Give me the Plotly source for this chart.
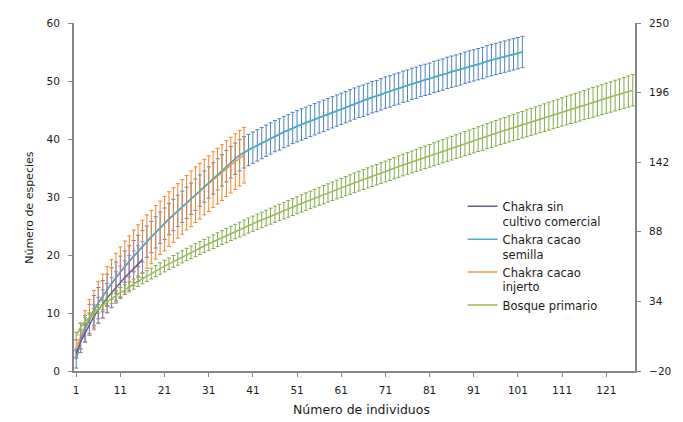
import plotly.graph_objects as go

# ---------------- data ----------------
x_tick_vals = [1, 11, 21, 31, 41, 51, 61, 71, 81, 91, 101, 111, 121]
x_tick_text = [str(v) for v in x_tick_vals]
y_left_ticks = [0, 10, 20, 30, 40, 50, 60]
y_right_ticks = [-20, 34, 88, 142, 196, 250]

series_names = ["Chakra sin<br>cultivo comercial", "Chakra cacao<br>semilla",
                "Chakra cacao<br>injerto", "Bosque primario"]

# Chakra sin cultivo comercial (left axis)
sin_cultivo = [3.0, 5.0, 6.5, 8.0, 9.4, 10.5, 11.6, 12.6, 13.5, 14.4, 15.3, 16.1, 16.9, 17.7, 18.5, 19.2]
sin_cultivo_err = [0.8, 1.2, 1.5, 1.8, 2.0, 2.2, 2.4, 2.5, 2.6, 2.7, 2.8, 2.9, 3.0, 3.0, 3.1, 3.1]

# Chakra cacao semilla (left axis)
semilla = [2.0, 5.2, 7.3, 9.0, 10.4, 11.7, 12.9, 14.0, 15.1, 16.1,
           17.1, 18.0, 18.9, 19.8, 20.7, 21.5, 22.3, 23.1, 23.9, 24.7,
           25.4, 26.2, 26.9, 27.6, 28.3, 29.0, 29.7, 30.4, 31.1, 31.8,
           32.5, 33.2, 33.9, 34.6, 35.3, 36.0, 36.6, 37.2, 37.7, 38.1,
           38.5, 38.9, 39.3, 39.7, 40.1, 40.5, 40.8, 41.2, 41.5, 41.9,
           42.2, 42.5, 42.8, 43.1, 43.4, 43.7, 44.0, 44.3, 44.6, 44.9,
           45.2, 45.5, 45.8, 46.1, 46.4, 46.6, 46.9, 47.2, 47.4, 47.7,
           48.0, 48.2, 48.5, 48.7, 49.0, 49.2, 49.5, 49.7, 50.0, 50.2,
           50.4, 50.7, 50.9, 51.1, 51.4, 51.6, 51.8, 52.0, 52.3, 52.5,
           52.7, 52.9, 53.1, 53.4, 53.6, 53.8, 54.0, 54.2, 54.4, 54.6,
           54.8, 55.0]
semilla_err = [1.5, 2.0, 2.3, 2.5, 2.6] + [2.7] * 97

# Chakra cacao injerto (left axis)
injerto = [3.9, 6.0, 7.7, 9.2, 10.5, 11.8, 12.9, 14.0, 15.1, 16.1,
           17.1, 18.0, 18.9, 19.8, 20.7, 21.5, 22.3, 23.1, 23.9, 24.7,
           25.4, 26.2, 26.9, 27.6, 28.3, 29.0, 29.7, 30.4, 31.0, 31.7,
           32.3, 33.0, 33.6, 34.2, 34.9, 35.5, 36.1, 36.7, 37.2]
injerto_err = [1.5, 2.2, 2.7, 3.1, 3.4, 3.6, 3.8, 4.0, 4.1, 4.2,
               4.3, 4.4, 4.4, 4.5, 4.5, 4.5, 4.6, 4.6, 4.6, 4.6,
               4.7, 4.7, 4.7, 4.7, 4.7, 4.7, 4.8, 4.8, 4.8, 4.8,
               4.8, 4.8, 4.8, 4.8, 4.8, 4.8, 4.8, 4.8, 4.8]

# Bosque primario (right axis)
bosque = [7.0, 14.1, 18.3, 21.9, 25.1, 28.2, 31.0, 33.6, 36.1, 38.5,
          40.9, 43.1, 45.3, 47.4, 49.6, 51.7, 53.7, 55.6, 57.5, 59.5,
          61.4, 63.2, 65.0, 66.8, 68.6, 70.4, 72.1, 73.7, 75.4, 77.0,
          78.7, 80.3, 81.9, 83.5, 85.1, 86.7, 88.2, 89.7, 91.3, 92.8,
          94.3, 95.8, 97.2, 98.7, 100.1, 101.6, 103.0, 104.4, 105.8, 107.2,
          108.6, 110.0, 111.4, 112.7, 114.1, 115.5, 116.8, 118.1, 119.5, 120.8,
          122.1, 123.4, 124.7, 126.0, 127.3, 128.6, 129.8, 131.1, 132.3, 133.6,
          134.8, 136.0, 137.3, 138.5, 139.8, 141.0, 142.2, 143.4, 144.6, 145.8,
          147.0, 148.2, 149.4, 150.5, 151.7, 152.9, 154.1, 155.2, 156.4, 157.5,
          158.7, 159.9, 161.0, 162.2, 163.3, 164.5, 165.6, 166.7, 167.8, 168.9,
          170.0, 171.1, 172.2, 173.3, 174.4, 175.5, 176.6, 177.7, 178.8, 179.9,
          181.0, 182.1, 183.1, 184.2, 185.2, 186.3, 187.4, 188.4, 189.5, 190.5,
          191.6, 192.6, 193.7, 194.7, 195.8, 196.8, 197.8]
bosque_err = [3.0, 3.1, 3.1, 3.2, 3.3, 3.4, 3.4, 3.5, 3.6, 3.7,
              3.7, 3.8, 3.9, 3.9, 4.0, 4.1, 4.2, 4.2, 4.3, 4.4,
              4.5, 4.5, 4.6, 4.7, 4.7, 4.8, 4.9, 5.0, 5.0, 5.1,
              5.2, 5.3, 5.3, 5.4, 5.5, 5.5, 5.6, 5.7, 5.8, 5.8,
              5.9, 6.0, 6.0, 6.1, 6.2, 6.3, 6.3, 6.4, 6.5, 6.6,
              6.6, 6.7, 6.8, 6.8, 6.9, 7.0, 7.1, 7.1, 7.2, 7.3,
              7.4, 7.4, 7.5, 7.6, 7.6, 7.7, 7.8, 7.9, 7.9, 8.0,
              8.1, 8.2, 8.2, 8.3, 8.4, 8.4, 8.5, 8.6, 8.7, 8.7,
              8.8, 8.9, 9.0, 9.0, 9.1, 9.2, 9.2, 9.3, 9.4, 9.5,
              9.5, 9.6, 9.7, 9.7, 9.8, 9.9, 10.0, 10.0, 10.1, 10.2,
              10.3, 10.3, 10.4, 10.5, 10.5, 10.6, 10.7, 10.8, 10.8, 10.9,
              11.0, 11.1, 11.1, 11.2, 11.3, 11.3, 11.4, 11.5, 11.6, 11.6,
              11.7, 11.8, 11.9, 11.9, 12.0, 12.1, 12.2]

FONT = "DejaVu Sans"
AXIS_COLOR = "#868686"
TEXT_COLOR = "#1a1a1a"
N_CATEGORIES = len(bosque)


def xs(values):
    return list(range(1, len(values) + 1))


fig = go.Figure()

fig.add_trace(go.Scatter(
    x=xs(semilla), y=semilla, name=series_names[1], mode="lines", legendrank=2,
    line=dict(color="#4BACC6", width=1.5),
    error_y=dict(type="data", array=semilla_err, color="#4F81BD", thickness=1, width=2),
))
fig.add_trace(go.Scatter(
    x=xs(injerto), y=injerto, name=series_names[2], mode="lines", legendrank=3,
    line=dict(color="#F79646", width=1.5),
    error_y=dict(type="data", array=injerto_err, color="#F0862E", thickness=1, width=2),
))
# semilla centre line stays visible above the injerto error bars
fig.add_trace(go.Scatter(
    x=xs(semilla), y=semilla, mode="lines", showlegend=False, hoverinfo="skip",
    line=dict(color="#4BACC6", width=1.5),
))
fig.add_trace(go.Scatter(
    x=xs(sin_cultivo), y=sin_cultivo, name=series_names[0], mode="lines", legendrank=1,
    line=dict(color="#6F5C86", width=1.5),
    error_y=dict(type="data", array=sin_cultivo_err, color="#8C84C0", thickness=1, width=2),
))
fig.add_trace(go.Scatter(
    x=xs(bosque), y=bosque, name=series_names[3], mode="lines", legendrank=4,
    yaxis="y2",
    line=dict(color="#9BBB59", width=1.5),
    error_y=dict(type="data", array=bosque_err, color="#86A94A", thickness=1, width=2),
))

tick_font = dict(family=FONT, size=10.5, color=TEXT_COLOR)
axis_common = dict(showgrid=False, zeroline=False, showline=True, linecolor=AXIS_COLOR,
                   linewidth=2, ticks="outside", ticklen=4, tickcolor=AXIS_COLOR,
                   tickwidth=1, tickfont=tick_font)

fig.update_layout(
    width=675, height=414,
    margin=dict(l=66, r=48, t=9, b=51),
    paper_bgcolor="white", plot_bgcolor="white",
    font=dict(family=FONT, size=10, color=TEXT_COLOR),
    showlegend=True,
    legend=dict(
        x=0.6927, y=0.5136, xanchor="left", yanchor="top",
        bgcolor="rgba(0,0,0,0)", borderwidth=0,
        font=dict(family=FONT, size=11.5, color=TEXT_COLOR),
        valign="top", itemwidth=30, tracegroupgap=0,
    ),
    xaxis=dict(range=[0.5, N_CATEGORIES + 0.5], tickmode="array",
               tickvals=x_tick_vals, ticktext=x_tick_text,
               ticklabelstandoff=4, **axis_common),
    yaxis=dict(range=[0, 60], tickmode="array", tickvals=y_left_ticks,
               ticklabelstandoff=6, **axis_common),
    yaxis2=dict(range=[-20, 250], tickmode="array", tickvals=y_right_ticks,
                overlaying="y", side="right", ticklabelstandoff=6, **axis_common),
    annotations=[
        dict(text="Número de especies", xref="paper", yref="paper",
             x=-0.0784, y=0.469, xanchor="center", yanchor="middle",
             textangle=-90, showarrow=False,
             font=dict(family=FONT, size=11, color=TEXT_COLOR)),
        dict(text="Número de individuos", xref="paper", yref="paper",
             x=0.513, y=-0.110, xanchor="center", yanchor="middle",
             showarrow=False,
             font=dict(family=FONT, size=12.5, color=TEXT_COLOR)),
    ],
)

fig.write_html("out.html")
